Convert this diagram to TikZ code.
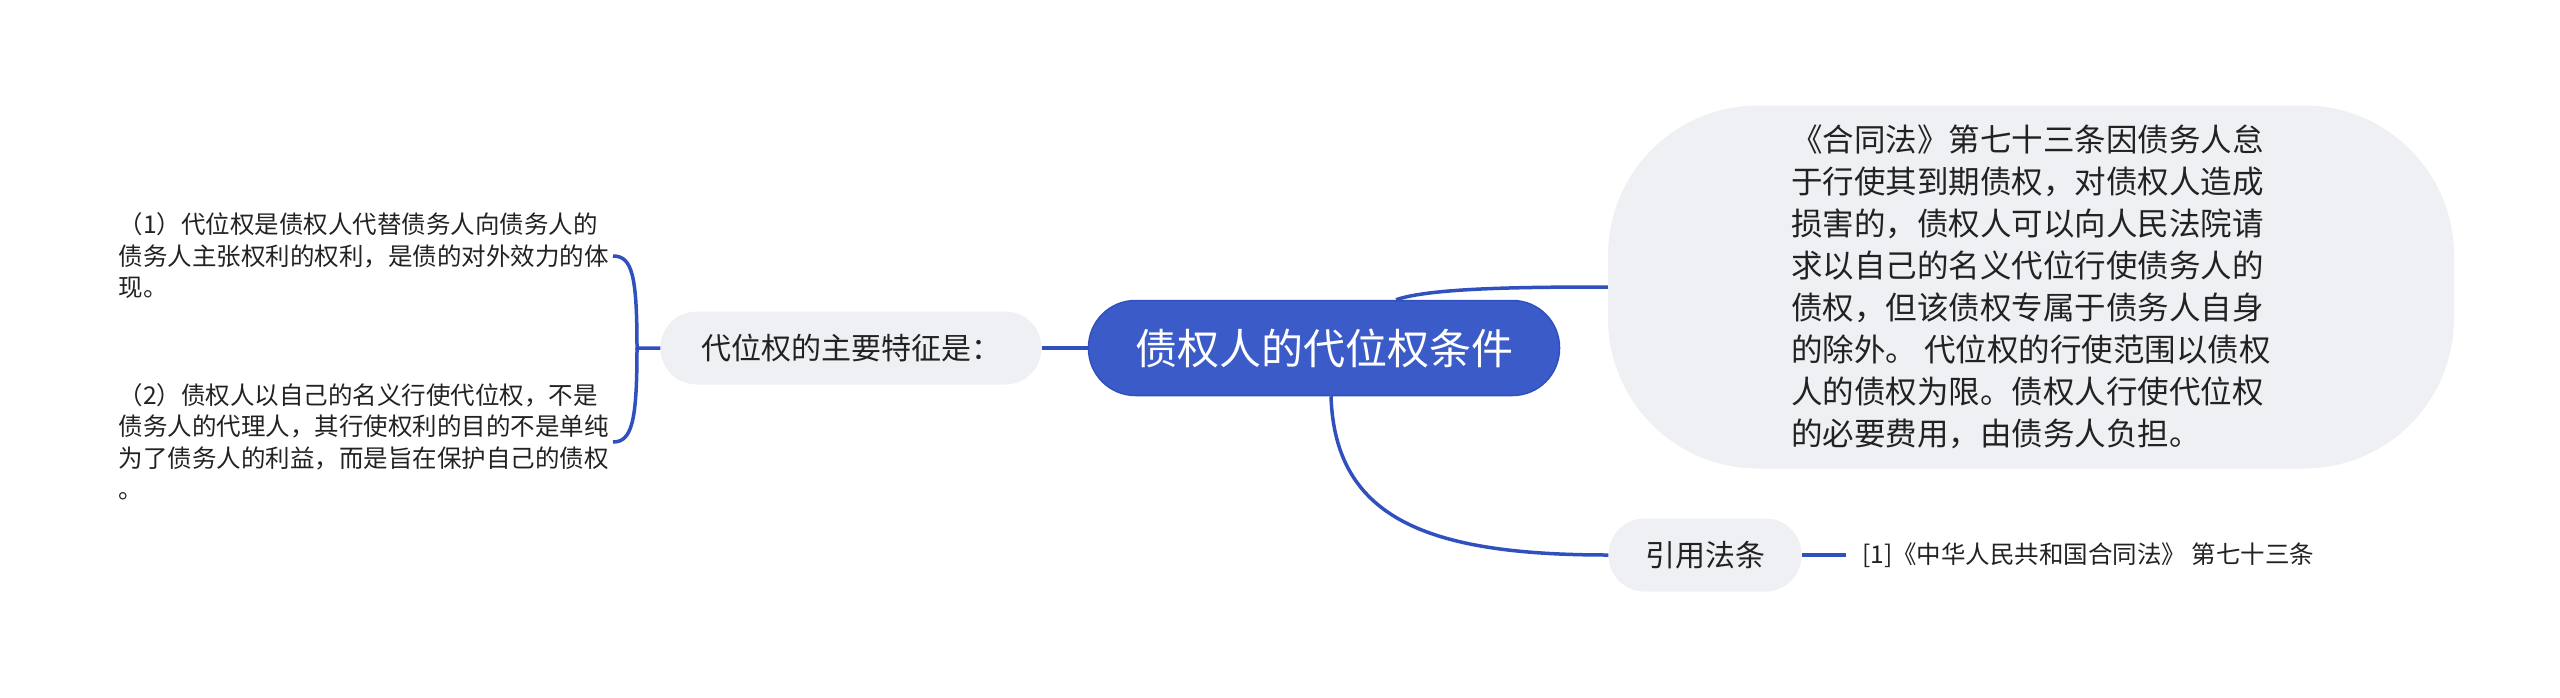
\documentclass[tikz,border=0pt]{standalone}
\usepackage{fontspec}
\setmainfont{Noto Sans CJK SC}
\usetikzlibrary{positioning}
\definecolor{mapblue}{HTML}{3B5BC8}
\definecolor{mapline}{HTML}{3050BE}
\definecolor{mapgray}{HTML}{EEF0F3}
\definecolor{maptext}{HTML}{222222}

\begin{document}
\begin{tikzpicture}[x=1pt,y=-1pt,
  topic/.style={fill=mapgray,rounded corners=36pt,minimum height=73pt,text=maptext,font=\fontsize{30}{36}\selectfont},
  leaf/.style={align=left,text=maptext,inner sep=8pt,font=\fontsize{24.5}{31.5}\selectfont}]
  \useasboundingbox (0,0) rectangle (2560,697);
  \node[fill=mapblue,draw=mapline,line width=1.5pt,rounded corners=47pt,minimum width=471pt,minimum height=95pt,text=white,font=\fontsize{42}{50}\selectfont] (root) at (1324,348) {债权人的代位权条件};
  \node[topic,minimum width=381pt] (feat) at (851,348) {代位权的主要特征是：};
  \node[topic,minimum width=846pt,minimum height=363pt,rounded corners=150pt,align=left,font=\fontsize{31.5}{42}\selectfont] (law) at (2031,287) {%
    《合同法》第七十三条因债务人怠\\
    于行使其到期债权，对债权人造成\\
    损害的，债权人可以向人民法院请\\
    求以自己的名义代位行使债务人的\\
    债权，但该债权专属于债务人自身\\
    的除外。 代位权的行使范围以债权\\
    人的债权为限。债权人行使代位权\\
    的必要费用，由债务人负担。};
  \node[topic,minimum width=193pt] (cite) at (1705,555) {引用法条};
  \node[leaf,anchor=west] (ref) at (1854,555) {[1]《中华人民共和国合同法》 第七十三条};
  \node[leaf,anchor=east] (p1) at (617,256) {%
    （1）代位权是债权人代替债务人向债务人的\\
    债务人主张权利的权利，是债的对外效力的体\\
    现。};
  \node[leaf,anchor=east] (p2) at (617,442) {%
    （2）债权人以自己的名义行使代位权，不是\\
    债务人的代理人，其行使权利的目的不是单纯\\
    为了债务人的利益，而是旨在保护自己的债权\\
    。};
  \coordinate (brk) at (637,348);
  \scope[every path/.append style={draw=mapline,line width=3.5pt}]
  \path (feat) -- (root);
  \path ([xshift=72pt]root.north) .. controls (1430,288) and (1520,287) .. (law.west);
  \path ([xshift=7pt]root.south) .. controls (1335,520) and (1430,555) .. (cite.west);
  \path (cite) -- ([xshift=-8pt]ref.west);
  \path (feat.west) -- (brk) .. controls (637,275) and (632,256) .. ([xshift=-4pt]p1.east);
  \path (brk) .. controls (637,421) and (632,442) .. ([xshift=-4pt]p2.east);
  \endscope
\end{tikzpicture}
\end{document}
